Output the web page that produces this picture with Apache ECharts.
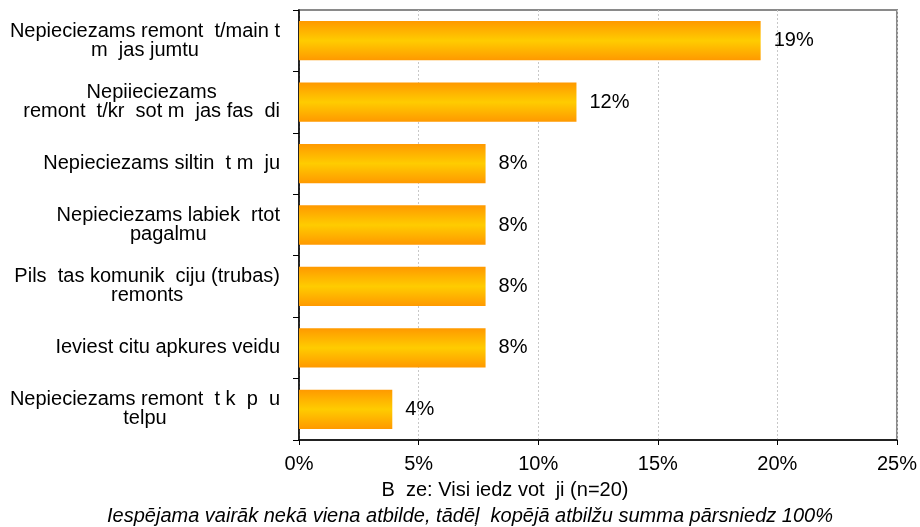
<!DOCTYPE html>
<html><head><meta charset="utf-8">
<script src="https://cdn.jsdelivr.net/npm/echarts@6/dist/echarts.min.js"></script>
<style>html,body{margin:0;padding:0;background:#fff}#c{width:920px;height:527px}</style>
</head><body><div id="c"></div>
<script>
var categories = [
  "Nepieciezams remont  t/main t\nm  jas jumtu",
  "Nepiieciezams\nremont  t/kr  sot m  jas fas  di",
  "Nepieciezams siltin  t m  ju",
  "Nepieciezams labiek  rtot\npagalmu",
  "Pils  tas komunik  ciju (trubas)\nremonts",
  "Ieviest citu apkures veidu",
  "Nepieciezams remont  t k  p  u\ntelpu"
];
var values = [19.3, 11.6, 7.8, 7.8, 7.8, 7.8, 3.9];
var xTicks = [0, 5, 10, 15, 20, 25];
var axisTitle = "B  ze: Visi iedz vot  ji (n=20)";
var footnote = "Iespējama vairāk nekā viena atbilde, tādēļ  kopējā atbilžu summa pārsniedz 100%";

var chart = echarts.init(document.getElementById('c'), null, {renderer: 'canvas'});
var font = 'Liberation Sans, Arial, sans-serif';
var fs = 20;
chart.setOption({
  animation: false,
  backgroundColor: '#fff',
  grid: {left: 299, right: 22, top: 10, bottom: 87, show: true, borderColor: '#8a8a8a', borderWidth: 2, backgroundColor: 'transparent'},
  xAxis: {
    type: 'value', min: xTicks[0], max: xTicks[xTicks.length - 1], interval: 5,
    axisLine: {show: true, lineStyle: {color: '#000', width: 1.5}},
    axisTick: {show: true, length: 5, lineStyle: {color: '#000'}},
    axisLabel: {color: '#000', fontFamily: font, fontSize: fs, margin: 14, formatter: function (v) { return v + '%'; }},
    splitLine: {show: true, lineStyle: {color: '#c8c8c8', type: [2, 2], width: 1}}
  },
  yAxis: {
    type: 'category', data: categories, inverse: true,
    axisLine: {show: true, lineStyle: {color: '#000', width: 1.5}},
    axisTick: {show: true, length: 6, lineStyle: {color: '#000'}},
    axisLabel: {
      color: '#000', fontFamily: font, fontSize: fs, margin: 19, lineHeight: 19,
      formatter: function (v) { return v.split('\n').map(function (s) { return '{a|' + s + '}'; }).join('\n'); },
      rich: {a: {align: 'center', color: '#000', fontFamily: font, fontSize: fs, lineHeight: 19}}
    },
    splitLine: {show: false}
  },
  series: [{
    type: 'bar', data: values, barCategoryGap: '36%',
    itemStyle: {color: new echarts.graphic.LinearGradient(0, 0, 0, 1, [
      {offset: 0, color: '#ff9900'}, {offset: 0.5, color: '#ffcc00'}, {offset: 1, color: '#ff9900'}
    ])},
    label: {show: true, position: 'right', distance: 13, color: '#000', fontFamily: font, fontSize: fs,
      formatter: function (p) { return Math.round(p.value) + '%'; }}
  }],
  graphic: [{
    type: 'text', x: 505, y: 490,
    style: {text: axisTitle, fill: '#000', font: fs + 'px ' + font, textAlign: 'center', textVerticalAlign: 'middle'}
  }, {
    type: 'text', x: 470, y: 516,
    style: {text: footnote, fill: '#000', font: 'italic 20px ' + font, textAlign: 'center', textVerticalAlign: 'middle'}
  }]
});
</script></body></html>
